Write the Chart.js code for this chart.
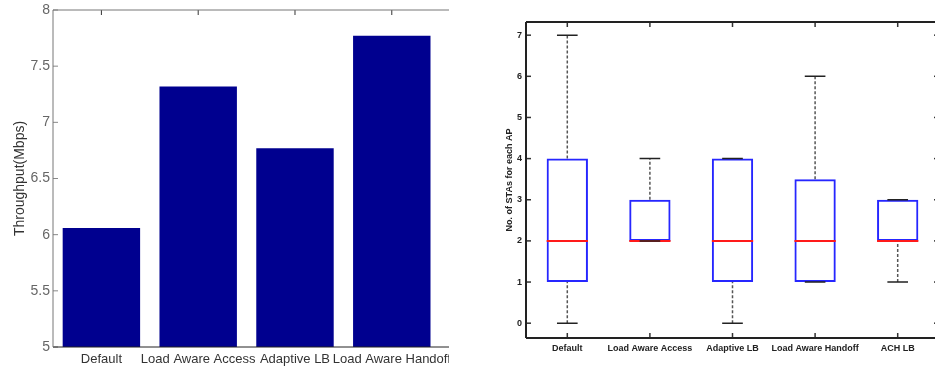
<!DOCTYPE html>
<html lang="en">
<head>
<meta charset="UTF-8">
<title>Throughput and STAs per AP</title>
<script src="https://cdn.jsdelivr.net/npm/chart.js@4"></script>
<style>
    body {
        margin: 0;
        width: 935px;
        height: 370px;
        overflow: hidden;
        background: #fff;
        position: relative;
    }
    .left { position: absolute; left: 0; top: 0; width: 449px; height: 370px; overflow: hidden; }
    .right { position: absolute; left: 480px; top: 0; width: 460px; height: 370px; }
    canvas { display: block; }
</style>
</head>
<body>
<div class="left"><canvas id="tputChart" width="470" height="370"></canvas></div>
<div class="right"><canvas id="staChart" width="460" height="370"></canvas></div>

<script>
// left: mean throughput per scheme
const schemes = ['Default', 'Load Aware Access', 'Adaptive LB', 'Load Aware Handoff'];
const throughput = [6.06, 7.32, 6.77, 7.77];
const tputTicks = [5, 5.5, 6, 6.5, 7, 7.5, 8];

// right: STAs per AP, box plot stats
const boxSchemes = ['Default', 'Load Aware Access', 'Adaptive LB', 'Load Aware Handoff', 'ACH LB'];
const staMin = [0, 2, 0, 1, 1];
const staQ1 = [1, 2, 1, 1, 2];
const staMedian = [2, 2, 2, 2, 2];
const staQ3 = [4, 3, 4, 3.5, 3];
const staMax = [7, 4, 4, 6, 3];
const staTicks = [0, 1, 2, 3, 4, 5, 6, 7];

const FONT = 'Liberation Sans, Arial, sans-serif';
const BOX_HALF = 0.25;
const CAP_HALF = 0.125;

// matlab style frame with inward tick marks
const axesBox = {
    id: 'axesBox',
    afterDatasetsDraw(chart, args, o) {
        const { ctx, chartArea: a, scales: { x, y } } = chart;
        const line = (x0, y0, x1, y1) => {
            ctx.beginPath(); ctx.moveTo(x0, y0); ctx.lineTo(x1, y1); ctx.stroke();
        };
        ctx.save();
        ctx.lineWidth = o.tickWidth;
        x.ticks.forEach(t => {
            const px = x.getPixelForValue(t.value);
            if (o.tickColors.top) { ctx.strokeStyle = o.tickColors.top; line(px, a.top, px, a.top + o.tickLen); }
            if (o.tickColors.bottom) { ctx.strokeStyle = o.tickColors.bottom; line(px, a.bottom, px, a.bottom - o.tickLen); }
        });
        y.ticks.forEach(t => {
            const py = y.getPixelForValue(t.value);
            if (o.tickColors.left) { ctx.strokeStyle = o.tickColors.left; line(a.left, py, a.left + o.tickLen, py); }
            if (o.tickColors.right) { ctx.strokeStyle = o.tickColors.right; line(a.right, py, a.right - o.tickLen, py); }
        });
        ctx.lineWidth = o.width;
        ctx.strokeStyle = o.colors.top; line(a.left, a.top, a.right, a.top);
        ctx.strokeStyle = o.colors.bottom; line(a.left, a.bottom, a.right, a.bottom);
        ctx.strokeStyle = o.colors.left; line(a.left, a.top, a.left, a.bottom);
        ctx.strokeStyle = o.colors.right; line(a.right, a.top, a.right, a.bottom);
        ctx.restore();
    }
};

// Throughput bar chart
new Chart(document.getElementById('tputChart'), {
    type: 'bar',
    data: {
        datasets: [{
            data: schemes.map((_, i) => ({ x: i + 1, y: throughput[i] })),
            backgroundColor: '#00008F',
            borderWidth: 0,
            barPercentage: 0.8,
            categoryPercentage: 1
        }]
    },
    options: {
        responsive: false,
        animation: false,
        layout: { padding: { top: 8, right: 0, bottom: 0, left: 0 } },
        plugins: {
            legend: { display: false },
            tooltip: { enabled: false },
            axesBox: {
                width: 1,
                colors: { top: '#777', bottom: '#222', left: '#777', right: '#777' },
                tickWidth: 1,
                tickLen: 5,
                tickColors: { top: '#333', left: '#888' }
            }
        },
        scales: {
            x: {
                type: 'linear', min: 0.5, max: 4.808, offset: false,
                grid: { display: false, drawTicks: false },
                border: { display: false },
                afterBuildTicks: s => { s.ticks = schemes.map((_, i) => ({ value: i + 1 })); },
                afterFit: s => { s.height = 23; },
                ticks: {
                    autoSkip: false, maxRotation: 0, minRotation: 0, padding: 5,
                    color: '#333', font: { family: FONT, size: 13 },
                    callback: v => schemes[Math.round(v) - 1]
                }
            },
            y: {
                min: 5, max: 8,
                grid: { display: false, drawTicks: false },
                border: { display: false },
                afterBuildTicks: s => { s.ticks = tputTicks.map(v => ({ value: v })); },
                afterFit: s => { s.width = 53; },
                ticks: {
                    padding: 3, color: '#666',
                    font: { family: FONT, size: 14, lineHeight: 1 },
                    callback: v => String(v)
                },
                title: {
                    display: true, text: 'Throughput(Mbps)', color: '#333',
                    font: { family: FONT, size: 14 },
                    padding: { top: 12, bottom: 0 }
                }
            }
        }
    },
    plugins: [axesBox]
});

// box plot pieces as line segments, gaps between them
function segments(list) {
    const pts = [];
    list.forEach(([x0, y0, x1, y1]) => {
        pts.push({ x: x0, y: y0 }, { x: x1, y: y1 }, { x: x1, y: null });
    });
    return pts;
}

const whiskerSegs = [];
const capSegs = [];
const medianSegs = [];
boxSchemes.forEach((_, i) => {
    const x = i + 1;
    if (staMax[i] > staQ3[i]) whiskerSegs.push([x, staQ3[i], x, staMax[i]]);
    if (staMin[i] < staQ1[i]) whiskerSegs.push([x, staMin[i], x, staQ1[i]]);
    capSegs.push([x - CAP_HALF, staMax[i], x + CAP_HALF, staMax[i]]);
    capSegs.push([x - CAP_HALF, staMin[i], x + CAP_HALF, staMin[i]]);
    medianSegs.push([x - BOX_HALF, staMedian[i], x + BOX_HALF, staMedian[i]]);
});

const segLine = (data, color, width, dash) => ({
    type: 'line',
    data: segments(data),
    borderColor: color,
    borderWidth: width,
    borderDash: dash || [],
    pointRadius: 0,
    tension: 0,
    fill: false,
    spanGaps: false
});

// STAs box plot
new Chart(document.getElementById('staChart'), {
    type: 'bar',
    data: {
        datasets: [
            segLine(capSegs, '#222', 1.5),
            segLine(medianSegs, '#ff1a1a', 2),
            {
                type: 'bar',
                data: boxSchemes.map((_, i) => ({ x: i + 1, y: [staQ1[i], staQ3[i]] })),
                backgroundColor: 'rgba(0,0,0,0)',
                borderColor: '#2626ff',
                borderWidth: 2,
                borderSkipped: false,
                barPercentage: 0.5,
                categoryPercentage: 1
            },
            segLine(whiskerSegs, '#555', 1.5, [3, 2])
        ]
    },
    options: {
        responsive: false,
        animation: false,
        layout: { padding: { top: 22, right: 1, bottom: 0, left: 0 } },
        plugins: {
            legend: { display: false },
            tooltip: { enabled: false },
            axesBox: {
                width: 2,
                colors: { top: '#222', bottom: '#222', left: '#222', right: '#222' },
                tickWidth: 1.5,
                tickLen: 5,
                tickColors: { top: '#333', bottom: '#333', left: '#333', right: '#333' }
            }
        },
        scales: {
            x: {
                type: 'linear', min: 0.5, max: 5.5, offset: false,
                grid: { display: false, drawTicks: false },
                border: { display: false },
                afterBuildTicks: s => { s.ticks = boxSchemes.map((_, i) => ({ value: i + 1 })); },
                afterFit: s => { s.height = 32; },
                ticks: {
                    autoSkip: false, maxRotation: 0, minRotation: 0, padding: 5,
                    color: '#222', font: { family: FONT, size: 9, weight: 'bold' },
                    callback: v => boxSchemes[Math.round(v) - 1]
                }
            },
            y: {
                min: -0.36, max: 7.32,
                grid: { display: false, drawTicks: false },
                border: { display: false },
                afterBuildTicks: s => { s.ticks = staTicks.map(v => ({ value: v })); },
                afterFit: s => { s.width = 46; },
                ticks: {
                    padding: 4, color: '#222',
                    font: { family: FONT, size: 9, weight: 'bold' },
                    callback: v => String(v)
                },
                title: {
                    display: true, text: 'No. of STAs for each AP', color: '#222',
                    font: { family: FONT, size: 9, weight: 'bold' },
                    padding: { top: 24, bottom: 0 }
                }
            }
        }
    },
    plugins: [axesBox]
});
</script>
</body>
</html>
